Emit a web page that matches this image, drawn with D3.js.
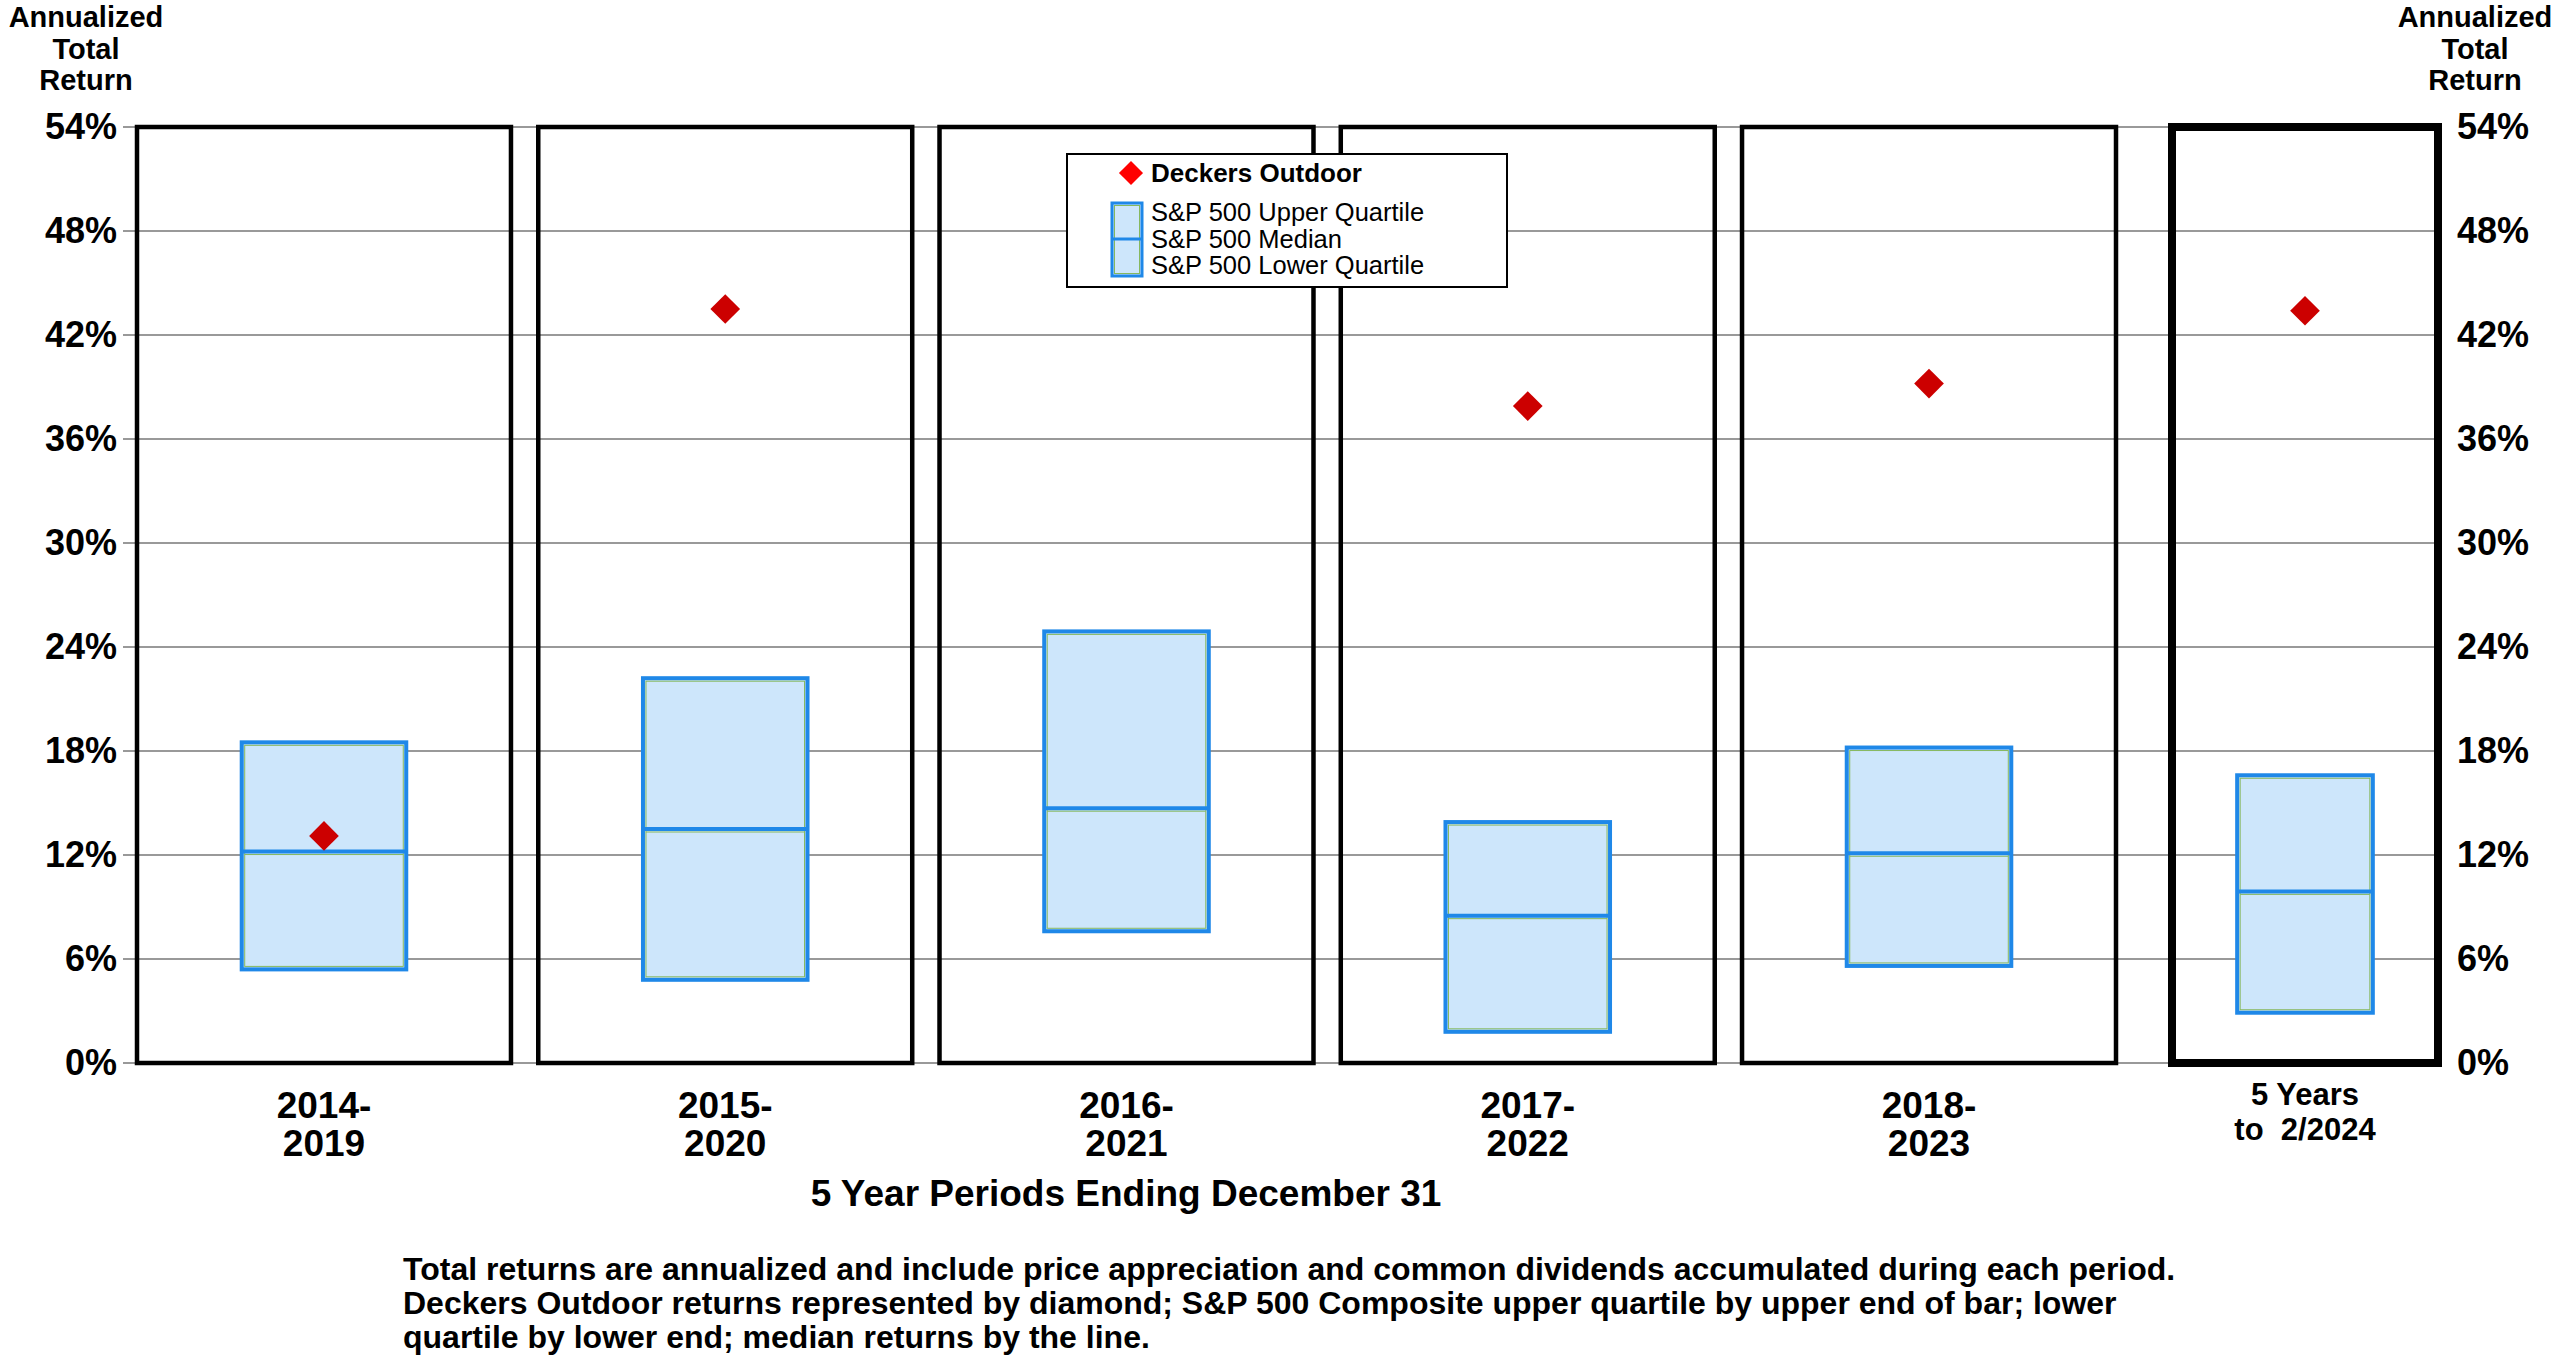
<!DOCTYPE html>
<html>
<head>
<meta charset="utf-8">
<script src="https://cdn.jsdelivr.net/npm/d3@7"></script>
<style>
  html, body { margin: 0; padding: 0; background: #fff; }
  svg { display: block; font-family: "Liberation Sans", Arial, Helvetica, sans-serif; }
</style>
</head>
<body>
<svg id="chart"></svg>
<script>
// Data
const periods = ["2014-2019", "2015-2020", "2016-2021", "2017-2022", "2018-2023", "5 Years to 2/2024"];
const periodLabels = [["2014-", "2019"], ["2015-", "2020"], ["2016-", "2021"], ["2017-", "2022"], ["2018-", "2023"], ["5 Years", "to  2/2024"]];
const upperQuartile = [18.5, 22.2, 24.9, 13.9, 18.2, 16.6];
const medianReturn = [12.2, 13.5, 14.7, 8.5, 12.1, 9.9];
const lowerQuartile = [5.4, 4.8, 7.6, 1.8, 5.6, 2.9];
const deckersReturn = [13.1, 43.5, 46.0, 37.9, 39.2, 43.4];
const yTicks = [0, 6, 12, 18, 24, 30, 36, 42, 48, 54];

const width = 2560, height = 1367;
const boxFill = "#cde6fb", boxStroke = "#1f88e8", boxInner = "#86b85e", diamondColor = "#cc0000";

const svg = d3.select("#chart").attr("width", width).attr("height", height);

// Scales
const y = d3.scaleLinear().domain([0, 54]).range([1063, 127]);
const xMain = d3.scaleBand().domain(periods.slice(0, 5)).range([137, 2116]).paddingInner(0.068);
const xLast = d3.scaleBand().domain(periods.slice(5)).range([2172, 2438]);

const panels = periods.map((p, i) => {
    const last = i === 5;
    const sc = last ? xLast : xMain;
    const x0 = sc(p), w = sc.bandwidth();
    const bw = last ? w * 0.51 : w * 0.44;
    return {
        p, i, last, x0, w, cx: x0 + w / 2, bw,
        upper: upperQuartile[i], median: medianReturn[i], lower: lowerQuartile[i], deckers: deckersReturn[i],
        label: periodLabels[i]
    };
});

// Gridlines
svg.append("g").selectAll("line")
    .data(yTicks)
    .enter().append("line")
    .attr("x1", 123).attr("x2", 2437)
    .attr("y1", d => y(d)).attr("y2", d => y(d))
    .attr("stroke", "#999").attr("stroke-width", 2);

// Y axes
const fmt = d => d + "%";
const leftAxis = svg.append("g").attr("transform", "translate(123,0)")
    .call(d3.axisLeft(y).tickValues(yTicks).tickFormat(fmt).tickSize(0).tickPadding(6));
const rightAxis = svg.append("g").attr("transform", "translate(2451,0)")
    .call(d3.axisRight(y).tickValues(yTicks).tickFormat(fmt).tickSize(0).tickPadding(6));
[leftAxis, rightAxis].forEach(g => {
    g.select(".domain").remove();
    g.selectAll("text").attr("font-size", 36).attr("font-weight", "bold").attr("fill", "#000")
        .attr("font-family", "Liberation Sans, Arial, sans-serif");
});

// Axis titles
[86, 2475].forEach(cx => {
    const t = svg.append("text").attr("text-anchor", "middle").attr("font-size", 29).attr("font-weight", "bold");
    ["Annualized", "Total", "Return"].forEach((s, k) => {
        t.append("tspan").attr("x", cx).attr("y", 27 + k * 31.5).text(s);
    });
});

// Boxes
const boxes = svg.append("g").selectAll("g")
    .data(panels).enter().append("g");

boxes.append("rect")
    .attr("x", d => d.cx - d.bw / 2).attr("width", d => d.bw)
    .attr("y", d => y(d.upper)).attr("height", d => y(d.lower) - y(d.upper))
    .attr("fill", boxFill).attr("stroke", boxStroke).attr("stroke-width", 4);
boxes.append("rect")
    .attr("x", d => d.cx - d.bw / 2 + 3).attr("width", d => d.bw - 6)
    .attr("y", d => y(d.upper) + 3).attr("height", d => y(d.lower) - y(d.upper) - 6)
    .attr("fill", "none").attr("stroke", boxInner).attr("stroke-width", 1);
boxes.append("line")
    .attr("x1", d => d.cx - d.bw / 2).attr("x2", d => d.cx + d.bw / 2)
    .attr("y1", d => y(d.median)).attr("y2", d => y(d.median))
    .attr("stroke", boxStroke).attr("stroke-width", 4);
boxes.append("line")
    .attr("x1", d => d.cx - d.bw / 2 + 3).attr("x2", d => d.cx + d.bw / 2 - 3)
    .attr("y1", d => y(d.median) + 3).attr("y2", d => y(d.median) + 3)
    .attr("stroke", boxInner).attr("stroke-width", 1);

// Deckers diamonds
const diamond = d3.symbol().type(d3.symbolSquare).size(441);
boxes.append("path")
    .attr("d", diamond)
    .attr("transform", d => `translate(${d.cx},${y(d.deckers)}) rotate(45)`)
    .attr("fill", diamondColor);

// Panel frames
svg.append("g").selectAll("rect")
    .data(panels).enter().append("rect")
    .attr("x", d => d.x0).attr("width", d => d.w)
    .attr("y", y(54)).attr("height", y(0) - y(54))
    .attr("fill", "none").attr("stroke", "#000")
    .attr("stroke-width", d => d.last ? 8 : 4.5);

// X labels
panels.forEach(d => {
    const t = svg.append("text").attr("text-anchor", "middle").attr("font-weight", "bold")
        .attr("font-size", d.last ? 31 : 37);
    d.label.forEach((s, k) => {
        t.append("tspan").attr("x", d.cx)
            .attr("y", d.last ? 1105 + k * 35 : 1118 + k * 38)
            .attr("xml:space", "preserve")
            .text(s);
    });
});

svg.append("text")
    .attr("x", 1126).attr("y", 1206)
    .attr("text-anchor", "middle").attr("font-size", 37).attr("font-weight", "bold")
    .text("5 Year Periods Ending December 31");

// Footnote
const notes = [
    "Total returns are annualized and include price appreciation and common dividends accumulated during each period.",
    "Deckers Outdoor returns represented by diamond; S&P 500 Composite upper quartile by upper end of bar; lower",
    "quartile by lower end; median returns by the line."
];
svg.append("g").selectAll("text")
    .data(notes).enter().append("text")
    .attr("x", 403).attr("y", (d, i) => 1280 + i * 34)
    .attr("font-size", 32).attr("font-weight", "bold")
    .text(d => d);

// Legend
const legend = svg.append("g").attr("transform", "translate(1067,154)");
legend.append("rect")
    .attr("width", 440).attr("height", 133)
    .attr("fill", "#fff").attr("stroke", "#000").attr("stroke-width", 2);
legend.append("path")
    .attr("d", d3.symbol().type(d3.symbolSquare).size(290))
    .attr("transform", "translate(64,19) rotate(45)")
    .attr("fill", "#ff0000");
legend.append("text")
    .attr("x", 84).attr("y", 28)
    .attr("font-size", 26).attr("font-weight", "bold")
    .text("Deckers Outdoor");
legend.append("rect")
    .attr("x", 45).attr("y", 49).attr("width", 30).attr("height", 73)
    .attr("fill", boxFill).attr("stroke", boxStroke).attr("stroke-width", 3);
legend.append("rect")
    .attr("x", 47.5).attr("y", 51.5).attr("width", 25).attr("height", 68)
    .attr("fill", "none").attr("stroke", boxInner).attr("stroke-width", 1);
legend.append("line")
    .attr("x1", 45).attr("x2", 75).attr("y1", 85).attr("y2", 85)
    .attr("stroke", boxStroke).attr("stroke-width", 3);
["S&P 500 Upper Quartile", "S&P 500 Median", "S&P 500 Lower Quartile"].forEach((s, k) => {
    legend.append("text")
        .attr("x", 84).attr("y", 67 + k * 26.5)
        .attr("font-size", 25.5)
        .text(s);
});
</script>
</body>
</html>
